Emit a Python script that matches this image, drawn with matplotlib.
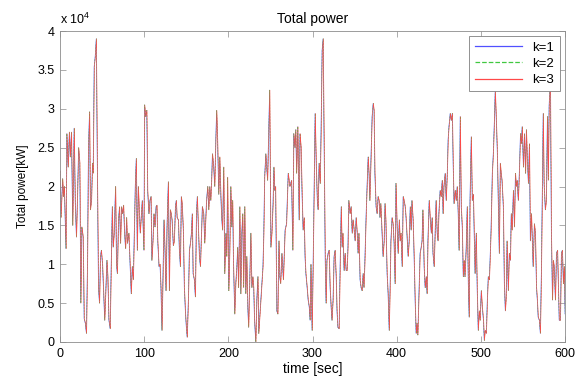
import numpy as np
import matplotlib
matplotlib.use("Agg")
import matplotlib.pyplot as plt
from matplotlib.ticker import FuncFormatter

plt.rcParams['font.family'] = ['Liberation Sans', 'DejaVu Sans']
plt.rcParams['mathtext.fontset'] = 'custom'
plt.rcParams['mathtext.rm'] = 'Liberation Sans'

# time samples [sec]
time_sec = [
    0, 1, 3, 4, 5, 7, 8, 9.5, 11, 12, 13.5, 15, 16.7, 18, 19.4, 20.6, 22, 23.4, 24.6, 25.8,
    27.4, 28.6, 30, 31.3, 32.5, 33.7, 35, 36, 37.3, 38.5, 39.3, 40.5, 41.7, 43, 44.4, 45.6,
    46.8, 48, 49, 50.4, 51.6, 53, 54.4, 55.6, 56.7, 58, 59.5, 60.7, 62, 63, 64.3, 65.9, 67,
    68, 69.4, 70.6, 71.8, 73, 74.2, 75.4, 76.6, 77.8, 79, 80, 81.7, 83.3, 84.5, 85.7, 87,
    88, 89.3, 90.5, 91.7, 92.9, 95.2, 97.6, 99.6, 100.4, 101.6, 103, 104, 105.5, 106.7, 108,
    109, 110.3, 111.5, 112.7, 114, 115, 116, 117.5, 118.7, 119.8, 121, 122, 123.4, 124.6,
    125.8, 127, 128.6, 129.8, 131, 132, 133, 134.5, 135.7, 137, 138, 139, 140.5, 141.7,
    142.9, 144, 145, 146.4, 147.6, 149, 150, 151, 152.4, 153.6, 154.8, 156, 157, 158, 159.5,
    160.7, 162, 163, 164, 165.5, 166.7, 168, 169, 170.6, 171.8, 173, 174, 175.4, 176.6,
    177.8, 179, 180, 181, 182.5, 183.7, 185, 186, 187, 188.5, 189.7, 191, 192, 193, 194.4,
    195.6, 197, 198, 199, 200.4, 201.6, 202.8, 204, 205, 206, 207.5, 208.7, 210, 211, 212,
    213.5, 214.7, 215.9, 217, 218, 219.4, 220.6, 221.8, 223, 224, 225, 226.6, 227.8, 229,
    230, 231, 232.5, 233.7, 235, 236, 237, 238.5, 239.7, 241, 242, 243, 244.4, 246.5, 249,
    250.4, 251.6, 253, 254, 255, 256, 257.5, 258.7, 260, 261, 262, 263.5, 265.3, 267.3, 269,
    271, 273, 275, 276.5, 277.6, 279, 280, 281, 282.4, 284, 285, 286.3, 287.5, 288.7, 290,
    291, 292, 293.5, 294.7, 296, 297, 298, 299.4, 300.6, 302, 303, 304.4, 305.6, 306.5,
    307.7, 309, 310, 311.3, 312.5, 313.7, 315, 316, 317, 318.4, 319.6, 320.8, 322, 323,
    324.3, 325.5, 326.7, 328, 329, 330, 331.5, 332.7, 334, 335, 336, 337.4, 338.6, 339.8,
    341, 342, 343, 344.5, 345.7, 347, 348, 349, 350.5, 351.7, 353, 354, 355, 356.4, 357.6,
    358.8, 360, 361, 362, 363.5, 364.7, 366, 367, 368, 369.5, 370.7, 372, 373, 374, 375.4,
    376.6, 377.8, 379, 380, 381, 382.5, 383.7, 385, 386, 387, 388.5, 389.7, 391, 392, 393,
    394.4, 395.6, 396.8, 398, 399, 400.4, 401.6, 403, 404, 405, 406.4, 407.6, 408.7, 410,
    411, 412, 413.5, 414.7, 416, 417, 418, 419.4, 420.6, 421.8, 423, 424, 425, 426.6, 427.7,
    429, 430, 431, 432.5, 433.7, 435, 436, 437, 438.5, 439.7, 441, 442, 443, 444.4, 445.6,
    446.7, 448, 449, 450, 451.5, 452.7, 454, 455, 456, 457.5, 458.7, 460, 461, 462, 463.5,
    464.7, 466, 467, 468, 469.4, 470.6, 471.8, 473, 474, 475.4, 476.6, 477.8, 479, 480, 481,
    482.5, 483.7, 485, 486, 487, 488.5, 489.7, 491, 492, 493, 494.4, 495.6, 496.8, 498, 499,
    500.4, 501.6, 503, 504, 505, 506.4, 507.6, 508.7, 510, 511, 512, 513.5, 514.7, 516, 517,
    518, 519.4, 520.6, 521.8, 523, 524, 525, 526.6, 527.8, 529, 530, 531, 532.5, 533.7, 535,
    536, 537, 538.6, 539.8, 541, 542, 543, 544.4, 545.6, 547, 548, 549, 550.5, 551.7, 553,
    554, 555, 556.4, 557.6, 558.7, 560, 561, 562, 563.5, 564.7, 566, 567, 568, 569.4, 570.6,
    571.8, 573, 574, 575, 576.5, 577.7, 579, 580, 581, 582.5, 583.7, 585, 586, 587, 588.5,
    589.7, 591, 592, 593, 594.4, 595.6, 596.7, 598, 599, 600,
]

# total power in thousands of kW, same order as time_sec
power_k = [
    22, 16, 21, 18.7, 20, 12, 26.8, 22.5, 27, 23.8, 27, 15, 27.5, 18, 13.5, 18.4, 25, 23, 5, 14.8,
    13.5, 3, 2.4, 1.1, 9.7, 25, 29.6, 17, 18.2, 23, 21.7, 35.4, 36.7, 39, 20.4, 7,
    5, 11, 11.8, 10, 6.6, 2.8, 7, 10.5, 8.4, 2.8, 1.7, 9.7, 17.4, 12.2, 14, 20, 10,
    8.8, 15.7, 17.4, 12.7, 17.4, 16.5, 17.6, 14, 12, 16, 12.7, 14, 9.7, 6.2, 9.7, 8,
    13, 20, 23.6, 11.8, 20, 14, 18.2, 11.8, 30.5, 29, 29.8, 19.5, 16.5, 18.2, 18.7,
    10.5, 13, 16.5, 14.8, 17.4, 17.6, 13, 9.7, 10, 7, 1.5, 7, 15.7, 11.8,
    6.6, 14.8, 20.6, 6.6, 17, 16.5, 15.7, 12.4, 13, 17.4, 18.2, 16, 15.7, 11.8,
    9.7, 18.7, 17.8, 14.4, 7, 3.6, 1.9, 0.6, 5.4, 11.8, 12.7, 14, 16.5, 8.8, 8,
    5.8, 16.5, 18.7, 15.7, 11, 9.7, 14, 17.4, 16.5, 12.7, 15.7, 18.2, 20, 17,
    20, 18.2, 20.8, 24.2, 22.5, 20, 26, 29.8, 26.4, 19, 23.8, 18.7, 16, 14.4, 22.5,
    8.8, 14, 11, 21.2, 6.6, 11.8, 20, 14.8, 18.2, 10, 3.6, 7.5, 9.7, 12.2, 7,
    17.4, 6.2, 14, 16.5, 7, 17.4, 6.2, 11, 4.5, 1.9, 6.6, 14, 7, 8.4,
    7, 2.8, 0, 5.4, 8.4, 1.1, 2.8, 5.4, 7.5, 9.7, 14, 21.2, 24.2, 20.8, 32.4,
    12.2, 14, 17.8, 22.5, 19.5, 20, 4, 3.6, 13, 8.4, 7.5, 11.4, 8, 14.4, 15.2,
    21.7, 20, 20.8, 11.8, 26.8, 25, 27.3, 21.7, 27.7, 15.7, 26.8, 25, 19, 14.4, 16,
    11, 8.8, 7, 5.4, 4.5, 2.8, 10, 1.5, 9.7, 20.8, 29.4, 22.5, 18.2, 17,
    23, 20.4, 26.8, 37.5, 39, 26, 10.5, 5, 10.5, 11.4, 11.8, 7, 4.5, 2.8,
    5.4, 11, 11.8, 8.4, 4, 1.9, 1.7, 9.7, 17.4, 12.2, 14, 9.2, 11.4, 9.2,
    9.2, 12.2, 18.2, 16.5, 17.4, 14, 15.7, 14.8, 13, 16, 14, 11.4, 14, 8, 7,
    6.6, 8.8, 7, 10, 16, 20, 23.8, 21.7, 18.2, 24.2, 29, 30.7, 29.8, 21.7, 17.4,
    16.5, 18.7, 18.2, 16, 17.8, 14, 11, 13, 17.8, 15.7, 8.8, 6.2, 1.5, 6.6, 13,
    16, 15.2, 12.7, 7.5, 20.4, 14.8, 11.4, 15.7, 13, 14, 9.7, 18.7, 18.2, 17.4,
    16, 14, 11, 13, 17.4, 14.4, 18.2, 15.7, 11, 5.4, 1.1, 2.4, 0.9, 7, 11.4,
    12.2, 13, 17, 9.7, 7, 8.4, 6.2, 13, 18.2, 16, 14, 16, 11.4, 9.7, 14,
    18.2, 14, 13, 16.5, 19.5, 18.7, 20.8, 16.5, 20, 21.7, 18.2, 21.7, 26, 27.7, 29.4,
    28.5, 29.4, 23, 17.8, 19.5, 18.2, 20, 16.5, 11.8, 29, 17.4, 14.8, 8.4, 10.5, 8.4,
    12.2, 17.4, 7.5, 3.2, 18.2, 26.4, 18.2, 19, 14, 8.8, 14, 6.6, 1.5, 4, 2.8,
    6.6, 4.5, 2.8, 0.2, 1.5, 1.1, 5.4, 8.4, 8, 11, 14.4, 21.7, 24.2, 28.5, 32.4,
    29.4, 24.7, 18.2, 11.4, 23, 21.7, 20.8, 17.4, 7.5, 4, 5.8, 13, 6.6, 11.4, 10.5,
    16.5, 14.4, 19.5, 14.8, 21.7, 20, 20.8, 18.2, 21.7, 26.8, 25.5, 27.7, 22.5, 26.8, 21.7,
    27.3, 23.8, 20.4, 25.5, 13, 16.5, 13, 9.7, 15.2, 14, 7, 5.4, 3.2, 2.8, 1.1,
    8.8, 19.5, 29.4, 20.4, 17, 18.2, 29, 20.8, 30.3, 34, 14, 5.4, 10.5, 9.7, 5.4,
    11.4, 11.8, 7.5, 2.8, 2.8, 11.4, 11.8, 7.5, 9.7, 3.6,
]

# the three runs follow the same profile, each a little later than the previous one [sec]
series_labels = ['k=1', 'k=2', 'k=3']
series_lag_sec = [0.0, 0.2, 0.4]

colors = ['#5050ff', '#40c840', '#ff4848']
styles = ['-', '--', '-']


def main():
    t = np.array(time_sec)
    p = np.array(power_k) * 1000.0

    fig = plt.figure(figsize=(5.78, 3.76), dpi=100)
    ax = fig.add_axes([60 / 578, 34 / 376, 505 / 578, 311 / 376])

    for label, lag, c, ls in zip(series_labels, series_lag_sec, colors, styles):
        ax.plot(t + lag, p, color=c, linestyle=ls, linewidth=0.4, label=label)

    ax.set_xlim(0, 600)
    ax.set_ylim(0, 40000)
    ax.set_xticks(np.arange(0, 601, 100))
    ax.set_yticks(np.arange(0, 40001, 5000))
    ax.yaxis.set_major_formatter(FuncFormatter(lambda v, _: f"{v / 1e4:g}"))

    ax.tick_params(direction='in', top=True, right=True, length=4, width=0.5,
                   color='0.55', labelsize=9, pad=4)
    for s in ax.spines.values():
        s.set_color('0.55')
        s.set_linewidth(0.6)

    ax.set_title('Total power', fontsize=10, pad=6)
    ax.set_xlabel('time [sec]', fontsize=10, labelpad=2)
    ax.set_ylabel('Total power[kW]', fontsize=8.5, labelpad=6)
    ax.text(0, 1.012, r'x 10$^{4}$', transform=ax.transAxes, ha='left', va='bottom',
            fontsize=9)

    leg = ax.legend(loc='upper right', fontsize=9.5, fancybox=False, framealpha=1,
                    edgecolor='0.5', handlelength=3.6, borderaxespad=0.4,
                    labelspacing=0.3, borderpad=0.4, handletextpad=0.8)
    leg.get_frame().set_linewidth(0.6)
    # legend handles a bit heavier so their colour reads clearly
    for line, c in zip(leg.get_lines(), colors):
        line.set_linewidth(0.9)
        line.set_color(c)

    plt.savefig('out.png', dpi=100)


if __name__ == "__main__":
    main()
